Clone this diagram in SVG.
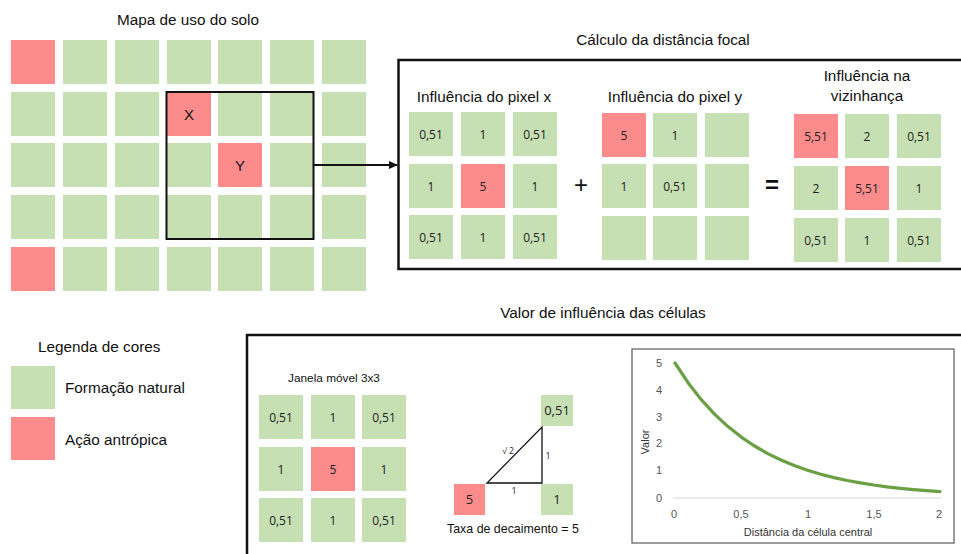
<svg xmlns="http://www.w3.org/2000/svg" width="961" height="554" viewBox="0 0 961 554">
<defs>
<style>
.g{fill:#c6e0b4}
.r{fill:#fc8c8c}
.t{font-family:"Liberation Sans",Arial,sans-serif;font-size:15.3px;fill:#111;text-anchor:middle}
.tl{font-family:"Liberation Sans",Arial,sans-serif;font-size:15.3px;fill:#111}
.c{font-family:"Open Sans","Liberation Sans",sans-serif;font-size:12px;fill:#222;text-anchor:middle}
.frame{fill:none;stroke:#111;stroke-width:2.5}
.ax{font-family:"Liberation Sans",Arial,sans-serif;font-size:11px;fill:#555;text-anchor:middle}
</style>
<marker id="ah" markerWidth="10" markerHeight="10" refX="8" refY="5" orient="auto" markerUnits="userSpaceOnUse">
<path d="M0,1 L9,5 L0,9 Z" fill="#111"/>
</marker>
</defs>
<rect width="961" height="554" fill="#fff"/>

<!-- Map -->
<g id="mapa">
<text class="t" x="188" y="25">Mapa de uso do solo</text>
<g>
<rect class="r" x="11" y="40" width="44" height="44"/><rect class="g" x="63" y="40" width="44" height="44"/><rect class="g" x="115" y="40" width="44" height="44"/><rect class="g" x="167" y="40" width="44" height="44"/><rect class="g" x="218" y="40" width="44" height="44"/><rect class="g" x="270" y="40" width="44" height="44"/><rect class="g" x="322" y="40" width="44" height="44"/>
<rect class="g" x="11" y="92" width="44" height="44"/><rect class="g" x="63" y="92" width="44" height="44"/><rect class="g" x="115" y="92" width="44" height="44"/><rect class="r" x="167" y="92" width="44" height="44"/><rect class="g" x="218" y="92" width="44" height="44"/><rect class="g" x="270" y="92" width="44" height="44"/><rect class="g" x="322" y="92" width="44" height="44"/>
<rect class="g" x="11" y="143" width="44" height="44"/><rect class="g" x="63" y="143" width="44" height="44"/><rect class="g" x="115" y="143" width="44" height="44"/><rect class="g" x="167" y="143" width="44" height="44"/><rect class="r" x="218" y="143" width="44" height="44"/><rect class="g" x="270" y="143" width="44" height="44"/><rect class="g" x="322" y="143" width="44" height="44"/>
<rect class="g" x="11" y="195" width="44" height="44"/><rect class="g" x="63" y="195" width="44" height="44"/><rect class="g" x="115" y="195" width="44" height="44"/><rect class="g" x="167" y="195" width="44" height="44"/><rect class="g" x="218" y="195" width="44" height="44"/><rect class="g" x="270" y="195" width="44" height="44"/><rect class="g" x="322" y="195" width="44" height="44"/>
<rect class="r" x="11" y="247" width="44" height="44"/><rect class="g" x="63" y="247" width="44" height="44"/><rect class="g" x="115" y="247" width="44" height="44"/><rect class="g" x="167" y="247" width="44" height="44"/><rect class="g" x="218" y="247" width="44" height="44"/><rect class="g" x="270" y="247" width="44" height="44"/><rect class="g" x="322" y="247" width="44" height="44"/>
</g>
<text class="t" x="189" y="120" style="font-size:15px">X</text>
<text class="t" x="240" y="171" style="font-size:15px">Y</text>
<rect x="166.5" y="92" width="147" height="147" fill="none" stroke="#111" stroke-width="2"/>
</g>

<!-- Focal calculation -->
<g id="calculo">
<text class="t" x="663" y="45">Cálculo da distância focal</text>
<rect class="frame" x="398.5" y="60" width="570" height="209"/>
<text class="t" x="484" y="102">Influência do pixel x</text>
<text class="t" x="675" y="102">Influência do pixel y</text>
<text class="t" x="867" y="81">Influência na</text>
<text class="t" x="867" y="101">vizinhança</text>
<g id="grid-x">
<rect class="g" x="409" y="112" width="44" height="44"/><rect class="g" x="461" y="112" width="44" height="44"/><rect class="g" x="513" y="112" width="44" height="44"/>
<rect class="g" x="409" y="164" width="44" height="44"/><rect class="r" x="461" y="164" width="44" height="44"/><rect class="g" x="513" y="164" width="44" height="44"/>
<rect class="g" x="409" y="215" width="44" height="44"/><rect class="g" x="461" y="215" width="44" height="44"/><rect class="g" x="513" y="215" width="44" height="44"/>
<text class="c" x="431" y="138.5">0,51</text><text class="c" x="483" y="138.5">1</text><text class="c" x="535" y="138.5">0,51</text>
<text class="c" x="431" y="190.5">1</text><text class="c" x="483" y="190.5">5</text><text class="c" x="535" y="190.5">1</text>
<text class="c" x="431" y="241.5">0,51</text><text class="c" x="483" y="241.5">1</text><text class="c" x="535" y="241.5">0,51</text>
</g>
<text class="t" x="581" y="193" style="font-size:24px">+</text>
<g id="grid-y">
<rect class="r" x="602" y="113" width="44" height="44"/><rect class="g" x="653" y="113" width="44" height="44"/><rect class="g" x="705" y="113" width="44" height="44"/>
<rect class="g" x="602" y="164" width="44" height="44"/><rect class="g" x="653" y="164" width="44" height="44"/><rect class="g" x="705" y="164" width="44" height="44"/>
<rect class="g" x="602" y="216" width="44" height="44"/><rect class="g" x="653" y="216" width="44" height="44"/><rect class="g" x="705" y="216" width="44" height="44"/>
<text class="c" x="624" y="139.5">5</text><text class="c" x="675" y="139.5">1</text>
<text class="c" x="624" y="190.5">1</text><text class="c" x="675" y="190.5">0,51</text>
</g>
<text class="t" x="772" y="193" style="font-size:24px;font-weight:bold">=</text>
<g id="grid-soma">
<rect class="r" x="794" y="114" width="44" height="44"/><rect class="g" x="845" y="114" width="44" height="44"/><rect class="g" x="897" y="114" width="44" height="44"/>
<rect class="g" x="794" y="166" width="44" height="44"/><rect class="r" x="845" y="166" width="44" height="44"/><rect class="g" x="897" y="166" width="44" height="44"/>
<rect class="g" x="794" y="218" width="44" height="44"/><rect class="g" x="845" y="218" width="44" height="44"/><rect class="g" x="897" y="218" width="44" height="44"/>
<text class="c" x="816" y="140.5">5,51</text><text class="c" x="867" y="140.5">2</text><text class="c" x="919" y="140.5">0,51</text>
<text class="c" x="816" y="192.5">2</text><text class="c" x="867" y="192.5">5,51</text><text class="c" x="919" y="192.5">1</text>
<text class="c" x="816" y="244.5">0,51</text><text class="c" x="867" y="244.5">1</text><text class="c" x="919" y="244.5">0,51</text>
</g>
</g>

<!-- Connector -->
<g id="conectores">
<line x1="314" y1="165" x2="397" y2="165" stroke="#111" stroke-width="2" marker-end="url(#ah)"/>
</g>

<!-- Legend -->
<g id="legenda">
<text class="tl" x="38" y="352">Legenda de cores</text>
<rect class="g" x="11" y="366" width="44" height="43"/>
<text class="tl" x="65" y="393">Formação natural</text>
<rect class="r" x="11" y="417" width="44" height="43"/>
<text class="tl" x="65" y="445">Ação antrópica</text>
</g>

<!-- Influence values -->
<g id="valor-influencia">
<text class="t" x="603" y="318">Valor de influência das células</text>
<rect class="frame" x="247" y="335" width="725" height="230" stroke-width="2"/>
<g id="janela">
<text class="t" x="334" y="382" style="font-size:11.8px">Janela móvel 3x3</text>
<rect class="g" x="259" y="395" width="44" height="44"/><rect class="g" x="311" y="395" width="44" height="44"/><rect class="g" x="362" y="395" width="44" height="44"/>
<rect class="g" x="259" y="447" width="44" height="44"/><rect class="r" x="311" y="447" width="44" height="44"/><rect class="g" x="362" y="447" width="44" height="44"/>
<rect class="g" x="259" y="498" width="44" height="44"/><rect class="g" x="311" y="498" width="44" height="44"/><rect class="g" x="362" y="498" width="44" height="44"/>
<text class="c" x="281" y="421.5">0,51</text><text class="c" x="333" y="421.5">1</text><text class="c" x="384" y="421.5">0,51</text>
<text class="c" x="281" y="473.5">1</text><text class="c" x="333" y="473.5">5</text><text class="c" x="384" y="473.5">1</text>
<text class="c" x="281" y="524.5">0,51</text><text class="c" x="333" y="524.5">1</text><text class="c" x="384" y="524.5">0,51</text>
</g>
<g id="triangulo">
<rect class="g" x="541" y="395" width="32" height="31"/>
<rect class="g" x="541" y="484" width="32" height="31"/>
<rect class="r" x="454" y="484" width="31" height="31"/>
<text class="c" x="557" y="415" style="font-size:13px">0,51</text>
<text class="c" x="557" y="504" style="font-size:13px">1</text>
<text class="c" x="469.5" y="504" style="font-size:13px">5</text>
<path d="M487,483 L542,483 L542,427 Z" fill="none" stroke="#111" stroke-width="1.3"/>
<text class="c" x="508" y="454" style="font-size:8.5px">√ 2</text>
<text class="c" x="548" y="459" style="font-size:9px">1</text>
<text class="c" x="514" y="494" style="font-size:9px">1</text>
<text class="t" x="513" y="533" style="font-size:12.4px">Taxa de decaimento = 5</text>
</g>
<g id="grafico">
<rect x="632" y="349" width="322" height="194" fill="#fff" stroke="#666" stroke-width="1.3"/>
<line x1="673" y1="498" x2="942" y2="498" stroke="#d9d9d9" stroke-width="1"/>
<text class="ax" x="659" y="367">5</text>
<text class="ax" x="659" y="394">4</text>
<text class="ax" x="659" y="421">3</text>
<text class="ax" x="659" y="447">2</text>
<text class="ax" x="659" y="474">1</text>
<text class="ax" x="659" y="502">0</text>
<text class="ax" x="674" y="518">0</text>
<text class="ax" x="741" y="518">0,5</text>
<text class="ax" x="808" y="518">1</text>
<text class="ax" x="874" y="518">1,5</text>
<text class="ax" x="939" y="518">2</text>
<text class="ax" x="808" y="536" style="fill:#333">Distância da célula central</text>
<text class="ax" transform="translate(649,442) rotate(-90)" style="fill:#333">Valor</text>
<polyline fill="none" stroke="#6a9f44" stroke-width="3.2" stroke-linejoin="round" stroke-linecap="round" points="675,363 688.25,382.9 701.5,399.9 714.75,414.3 728,426.6 741.25,437.1 754.5,446 767.75,453.6 781,460 794.25,465.5 807.5,470.2 820.75,474.2 834,477.6 847.25,480.5 860.5,482.9 873.75,485 887,486.8 900.25,488.3 913.5,489.6 926.75,490.7 940,491.6"/>
</g>
</g>
</svg>
